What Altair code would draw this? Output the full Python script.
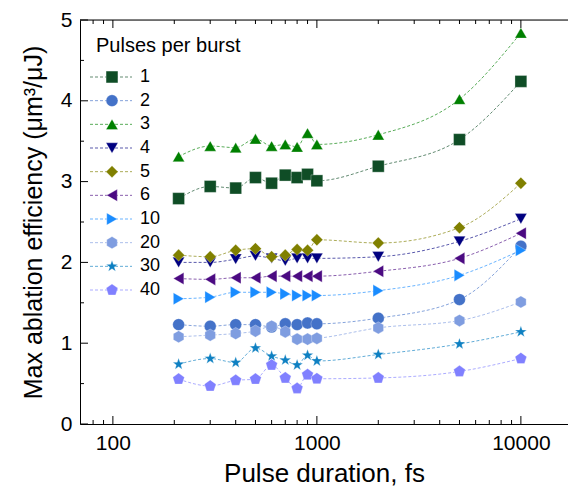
import altair as alt
import pandas as pd

# ---- data ----
durations = [210, 300, 400, 500, 600, 700, 800, 900, 1000, 2000, 5000, 10000]
series_labels = ["1", "2", "3", "4", "5", "6", "10", "20", "30", "40"]
eff_1 = [2.79, 2.94, 2.92, 3.05, 2.98, 3.08, 3.05, 3.09, 3.01, 3.19, 3.52, 4.24]
eff_2 = [1.23, 1.21, 1.23, 1.23, 1.20, 1.24, 1.23, 1.25, 1.24, 1.31, 1.54, 2.20]
eff_3 = [3.31, 3.44, 3.42, 3.53, 3.44, 3.46, 3.43, 3.60, 3.46, 3.58, 4.02, 4.84]
eff_4 = [2.00, 2.00, 2.04, 2.08, 2.05, 2.02, 2.05, 2.05, 2.05, 2.07, 2.26, 2.54]
eff_5 = [2.09, 2.07, 2.15, 2.17, 2.07, 2.09, 2.16, 2.15, 2.28, 2.24, 2.43, 2.98]
eff_6 = [1.80, 1.79, 1.81, 1.81, 1.83, 1.83, 1.83, 1.83, 1.83, 1.89, 2.05, 2.36]
eff_10 = [1.55, 1.57, 1.63, 1.63, 1.63, 1.61, 1.59, 1.59, 1.59, 1.65, 1.84, 2.15]
eff_20 = [1.08, 1.10, 1.12, 1.15, 1.21, 1.14, 1.05, 1.05, 1.06, 1.19, 1.28, 1.51]
eff_30 = [0.74, 0.81, 0.76, 0.94, 0.84, 0.79, 0.73, 0.85, 0.78, 0.86, 0.99, 1.14]
eff_40 = [0.555, 0.47, 0.54, 0.555, 0.73, 0.57, 0.44, 0.61, 0.56, 0.57, 0.65, 0.81]

x_major_ticks = [100, 1000, 10000]
x_minor_ticks = [80, 90, 200, 300, 400, 500, 600, 700, 800, 900,
                 2000, 3000, 4000, 5000, 6000, 7000, 8000, 9000]
y_major_ticks = [0, 1, 2, 3, 4, 5]
y_minor_ticks = [0.5, 1.5, 2.5, 3.5, 4.5]

legend_title = "Pulses per burst"
x_title = "Pulse duration, fs"
y_title = "Max ablation efficiency (μm³/μJ)"

# ---- styles ----
colors = ["#0f4d26", "#4472c8", "#008000", "#000080", "#808000",
          "#4b0a82", "#1a8cff", "#7f9de0", "#0e80c2", "#8080ff"]
hexagon = "M0,-1L0.866,-0.5L0.866,0.5L0,1L-0.866,0.5L-0.866,-0.5Z"
pentagon = "M0,-1L0.951,-0.309L0.588,0.809L-0.588,0.809L-0.951,-0.309Z"
star = ("M0,-1L0.235,-0.324L0.951,-0.309L0.380,0.124L0.588,0.809L0,0.4"
        "L-0.588,0.809L-0.380,0.124L-0.951,-0.309L-0.235,-0.324Z")
shapes = ["square", "circle", "triangle-up", "triangle-down", "diamond",
          "triangle-left", "triangle-right", hexagon, star, pentagon]
sizes = [140, 150, 230, 230, 200, 230, 230, 175, 210, 180]

W, H = 488, 404
FONT = "Liberation Sans"

all_eff = [eff_1, eff_2, eff_3, eff_4, eff_5, eff_6, eff_10, eff_20, eff_30, eff_40]
rows = []
for lab, vals in zip(series_labels, all_eff):
    for d, v in zip(durations, vals):
        rows.append({"series": lab, "duration": d, "eff": v})
df = pd.DataFrame(rows)

leg_df = pd.DataFrame({"series": series_labels, "idx": list(range(len(series_labels)))})

x_scale = alt.Scale(type="log", domain=[69, 17020])
y_scale = alt.Scale(domain=[0, 5], nice=False)
color_scale = alt.Scale(domain=series_labels, range=colors)
shape_scale = alt.Scale(domain=series_labels, range=shapes)
size_scale = alt.Scale(domain=series_labels, range=sizes)
leg_y_scale = alt.Scale(domain=[0, len(series_labels) - 1], range=[57, 270])

lines = alt.Chart(df).mark_line(
    strokeDash=[3, 2], strokeWidth=1, opacity=0.65, interpolate="monotone"
).encode(
    x=alt.X("duration:Q", scale=x_scale, title=x_title,
            axis=alt.Axis(values=x_major_ticks, format="d", tickSize=0, domain=True,
                          domainColor="black", domainWidth=1,
                          grid=False, labelFontSize=21, labelPadding=8,
                          titleFontSize=26, titleFontWeight="normal", titlePadding=7,
                          labelColor="black", titleColor="black", labelFont=FONT,
                          titleFont=FONT)),
    y=alt.Y("eff:Q", scale=y_scale, title=y_title,
            axis=alt.Axis(values=y_major_ticks, tickSize=0, domain=True,
                          domainColor="black", domainWidth=1, grid=False,
                          labelFontSize=21, labelPadding=8, titleFontSize=25,
                          titleFontWeight="normal", titlePadding=14,
                          labelColor="black", titleColor="black", labelFont=FONT,
                          titleFont=FONT)),
    color=alt.Color("series:N", scale=color_scale, legend=None),
    detail="series:N",
)

points = alt.Chart(df).mark_point(
    filled=True, opacity=1, stroke="white", strokeWidth=0.5, strokeOpacity=0.6
).encode(
    x=alt.X("duration:Q", scale=x_scale),
    y=alt.Y("eff:Q", scale=y_scale, axis=None),
    color=alt.Color("series:N", scale=color_scale, legend=None),
    shape=alt.Shape("series:N", scale=shape_scale, legend=None),
    size=alt.Size("series:N", scale=size_scale, legend=None),
)

# top frame line (the right frame lies just outside the picture)
top_line = alt.Chart(pd.DataFrame({"v": [5]})).mark_rule(color="black", strokeWidth=1).encode(
    y=alt.Y("v:Q", scale=y_scale, axis=None), x=alt.value(0), x2=alt.value(W))

# inward tick marks
xmaj = pd.DataFrame({"v": x_major_ticks})
xmin = pd.DataFrame({"v": x_minor_ticks})
ymaj = pd.DataFrame({"v": y_major_ticks})
ymin = pd.DataFrame({"v": y_minor_ticks})

def xticks(data, length):
    b = alt.Chart(data).mark_rule(color="black", strokeWidth=1).encode(
        x=alt.X("v:Q", scale=x_scale), y=alt.value(H), y2=alt.value(H - length))
    t = alt.Chart(data).mark_rule(color="black", strokeWidth=1).encode(
        x=alt.X("v:Q", scale=x_scale), y=alt.value(0), y2=alt.value(length))
    return [b, t]

def yticks_left(data, length):
    return alt.Chart(data).mark_rule(color="black", strokeWidth=1).encode(
        y=alt.Y("v:Q", scale=y_scale, axis=None), x=alt.value(0), x2=alt.value(length))

tick_layers = (xticks(xmaj, 8) + xticks(xmin, 4)
               + [yticks_left(ymaj, 8), yticks_left(ymin, 4), top_line])

# hand-built legend (dashed line + marker + label)
leg_lines = alt.Chart(leg_df).mark_rule(strokeDash=[3, 2], strokeWidth=1, opacity=0.65).encode(
    x=alt.value(10), x2=alt.value(52),
    y=alt.Y("idx:Q", scale=leg_y_scale, axis=None),
    color=alt.Color("series:N", scale=color_scale, legend=None),
)
leg_points = alt.Chart(leg_df).mark_point(
    filled=True, opacity=1, stroke="white", strokeWidth=0.5, strokeOpacity=0.6
).encode(
    x=alt.value(32),
    y=alt.Y("idx:Q", scale=leg_y_scale, axis=None),
    color=alt.Color("series:N", scale=color_scale, legend=None),
    shape=alt.Shape("series:N", scale=shape_scale, legend=None),
    size=alt.Size("series:N", scale=size_scale, legend=None),
)
leg_text = alt.Chart(leg_df).mark_text(
    align="left", baseline="middle", fontSize=18, font=FONT, color="black"
).encode(
    x=alt.value(60),
    y=alt.Y("idx:Q", scale=leg_y_scale, axis=None),
    text="series:N",
)
leg_title = alt.Chart(pd.DataFrame({"t": [legend_title]})).mark_text(
    align="left", baseline="middle", fontSize=20, font=FONT, color="black"
).encode(x=alt.value(16), y=alt.value(26), text="t:N")

chart = alt.layer(
    lines, points, *tick_layers, leg_lines, leg_points, leg_text, leg_title
).resolve_scale(y="independent").properties(
    width=W, height=H,
    autosize=alt.AutoSizeParams(type="none"),
    padding={"left": 72, "top": 12, "right": 0, "bottom": 64},
).configure_view(
    stroke=None
).configure(font=FONT, background="white")

chart.save("out.html", embed_options={"renderer": "svg", "actions": False})
